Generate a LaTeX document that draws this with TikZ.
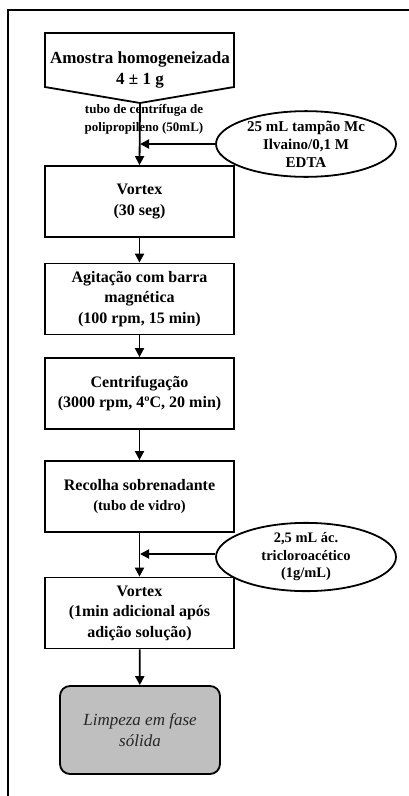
\documentclass[tikz,border=0pt]{standalone}
\usepackage{fontspec}
\setmainfont{Liberation Serif}
\usetikzlibrary{arrows.meta,shapes.geometric}
\begin{document}
\begin{tikzpicture}[x=1pt,y=-1pt,
  stepbox/.style={draw, line width=1.8pt, minimum width=189pt, minimum height=71pt,
    align=center, inner sep=2pt, font=\fontsize{16}{20.5}\selectfont\bfseries},
  addbox/.style={draw, ellipse, line width=1.8pt, minimum width=180pt, minimum height=56pt,
    align=center, inner sep=0pt, font=\fontsize{15}{18}\selectfont\bfseries},
  endbox/.style={draw, line width=1.8pt, rounded corners=10pt, fill=black!25,
    minimum width=160pt, minimum height=88pt, align=center,
    font=\fontsize{17}{21}\selectfont\itshape, text=black!85},
  flow/.style={line width=1.8pt, -{Triangle[length=9pt,width=9pt]}},
  frame/.style={line width=1.4pt},
]
\useasboundingbox (0,0) rectangle (409,796);
% page frame
\draw[frame] (8,796) -- (8,10) -- (409,10);

% starting sample (off-page shape)
\node[align=center, font=\fontsize{17}{21.5}\selectfont\bfseries] (amostra) at (140,70)
  {Amostra homogeneizada\\4 ± 1 g};
\draw[line width=1.8pt, line join=miter] (45,33) -- (234,33) -- (234,87) -- (140,103) -- (45,87) -- cycle;
\coordinate (tip) at (140,103);

\node[align=center, font=\fontsize{13}{18}\selectfont\bfseries] (tubo) at (144,119)
  {tubo de centrífuga de\\polipropileno (50mL)};

% process steps
\node[stepbox] (vortex1) at (139.5,201.5) {Vortex\\(30 seg)};
\node[stepbox] (agit) at (139.5,299) {Agitação com barra\\magnética\\(100 rpm, 15 min)};
\node[stepbox] (centr) at (139.5,393.5) {Centrifugação\\(3000 rpm, 4ºC, 20 min)};
\node[stepbox] (recolha) at (139.5,496.5)
  {Recolha sobrenadante\\{\fontsize{14.5}{18}\selectfont (tubo de vidro)}};
\node[stepbox] (vortex2) at (139.5,613)
  {Vortex\\(1min adicional após\\adição solução)};
\node[endbox] (limpeza) at (140,730) {Limpeza em fase\\sólida};

% reagents added
\node[addbox, minimum height=58pt] (tampao) at (306,144)
  {25 mL tampão Mc\\Ilvaino/0,1 M\\EDTA};
\node[addbox, minimum height=50pt, font=\fontsize{14.5}{17.5}\selectfont\bfseries] (tca) at (306,557)
  {2,5 mL ác.\\tricloroacético\\(1g/mL)};

\coordinate (j1) at (140,144);
\coordinate (j2) at (140,554);

% connectors
\draw[flow] (tip) -- (vortex1.north);
\draw[flow] (tampao.west) -- (j1);
\draw[flow] (vortex1) -- (agit);
\draw[flow] (agit) -- (centr);
\draw[flow] (centr) -- (recolha);
\draw[flow] (recolha) -- (vortex2);
\draw[flow] (tca.west |- j2) -- (j2);
\draw[flow] (vortex2) -- (limpeza);
\end{tikzpicture}
\end{document}
